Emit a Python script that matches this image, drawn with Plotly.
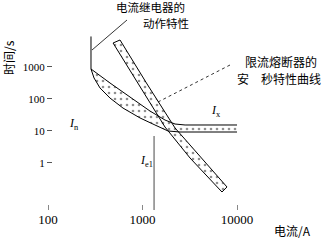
import plotly.graph_objects as go

# ---- data (current in A, time in s) ----
relay_vert_I = [285, 285]
relay_vert_t = [9000, 866]
relay_upper_I = [285, 453, 738, 1200, 1730, 2210, 2820, 10000]
relay_upper_t = [866, 316, 115, 42, 22, 16.5, 15.4, 15.4]
relay_lower_I = [285, 307, 355, 453, 622, 942, 1355, 1862, 2495, 10000]
relay_lower_t = [866, 453, 221, 107, 52, 25.5, 15.4, 10, 9.3, 9.3]

fuse_left_I = [488, 942, 1730, 3185, 6930]
fuse_left_t = [5620, 237, 13.3, 1.43, 0.124]
fuse_right_I = [578, 1117, 2210, 4060, 7830]
fuse_right_t = [6980, 294, 12.4, 1.66, 0.178]

ie1_I = [1325, 1325]
ie1_t = [7.0, 0.034]

x_ticks = [100, 1000, 10000]
x_ticktext = ["100", "1000", "10000"]
y_ticks = [1, 10, 100, 1000]
y_ticktext = ["1", "10", "100", "1000"]

# ---- layout geometry ----
W, H = 333, 241
L, R, T, B = 40, 13, 30, 31
PW, PH = W - L - R, H - T - B


def px(x):
    return (x - L) / PW


def py(y):
    return (H - B - y) / PH


pattern = dict(shape=".", fgcolor="#222", bgcolor="white", size=6, solidity=0.15)
fig = go.Figure()

# fills
fig.add_trace(go.Scatter(
    x=relay_upper_I + relay_lower_I[::-1], y=relay_upper_t + relay_lower_t[::-1],
    mode="lines", fill="toself", line=dict(width=0), fillcolor="white",
    fillpattern=pattern, hoverinfo="skip", showlegend=False))
fig.add_trace(go.Scatter(
    x=fuse_left_I + fuse_right_I[::-1] + fuse_left_I[:1],
    y=fuse_left_t + fuse_right_t[::-1] + fuse_left_t[:1],
    mode="lines", fill="toself", line=dict(width=0), fillcolor="white",
    fillpattern=pattern, hoverinfo="skip", showlegend=False))

line = dict(color="black", width=1)
fig.add_trace(go.Scatter(x=relay_vert_I + relay_upper_I[1:], y=relay_vert_t + relay_upper_t[1:],
                         mode="lines", line=line, showlegend=False))
fig.add_trace(go.Scatter(x=relay_lower_I, y=relay_lower_t, mode="lines", line=line, showlegend=False))
fig.add_trace(go.Scatter(
    x=fuse_left_I + fuse_right_I[::-1] + fuse_left_I[:1],
    y=fuse_left_t + fuse_right_t[::-1] + fuse_left_t[:1],
    mode="lines", line=line, showlegend=False))
fig.add_trace(go.Scatter(x=ie1_I, y=ie1_t, mode="lines",
                         line=dict(color="#666", width=1.2), showlegend=False, cliponaxis=False))

serif = "Liberation Serif"
cjk = "Noto Sans CJK SC"

fig.update_layout(
    width=W, height=H, margin=dict(l=L, r=R, t=T, b=B),
    paper_bgcolor="white", plot_bgcolor="white",
    xaxis=dict(type="log", range=[1.9153, 4.878], tickvals=x_ticks, ticktext=x_ticktext,
               ticks="inside", ticklen=5, tickcolor="#888", showline=False, showgrid=False,
               zeroline=False, tickfont=dict(family=serif, size=13, color="black")),
    yaxis=dict(type="log", range=[-1.469, 4.156], tickvals=y_ticks, ticktext=y_ticktext,
               ticks="outside", ticklen=5, tickcolor="#555", showline=False, showgrid=False,
               zeroline=False, anchor="free", position=px(52),
               tickfont=dict(family=serif, size=11, color="black")),
)

ann = []


def text(x, y, s, size=12, family=cjk, angle=0):
    ann.append(dict(x=px(x), y=py(y), xref="paper", yref="paper", text=s, showarrow=False,
                    font=dict(family=family, size=size, color="black"), textangle=angle,
                    xanchor="center", yanchor="middle", borderpad=0))


text(150, 7, "电流继电器的", 11.5)
text(166, 23, "动作特性", 11.5)
text(281, 61, "限流熔断器的", 12)
text(279, 78, "安　秒特性曲线", 12)
text(8, 58, "时间/s", 12, angle=-90)
text(292, 230, "电流/A", 12)
text(74, 124, "<i>I</i><sub>n</sub>", 12, serif)
text(146, 161, "<i>I</i><sub>e1</sub>", 12, serif)
text(216, 111, "<i>I</i><sub>x</sub>", 12, serif)
fig.update_layout(annotations=ann)

fig.add_shape(type="line", xref="paper", yref="paper", x0=px(127), y0=py(20), x1=px(92), y1=py(50),
              line=dict(color="black", width=0.8))
fig.add_shape(type="line", xref="paper", yref="paper", x0=px(230), y0=py(65), x1=px(158), y1=py(102),
              line=dict(color="black", width=0.8, dash="dot"))

fig.write_html("out.html")
